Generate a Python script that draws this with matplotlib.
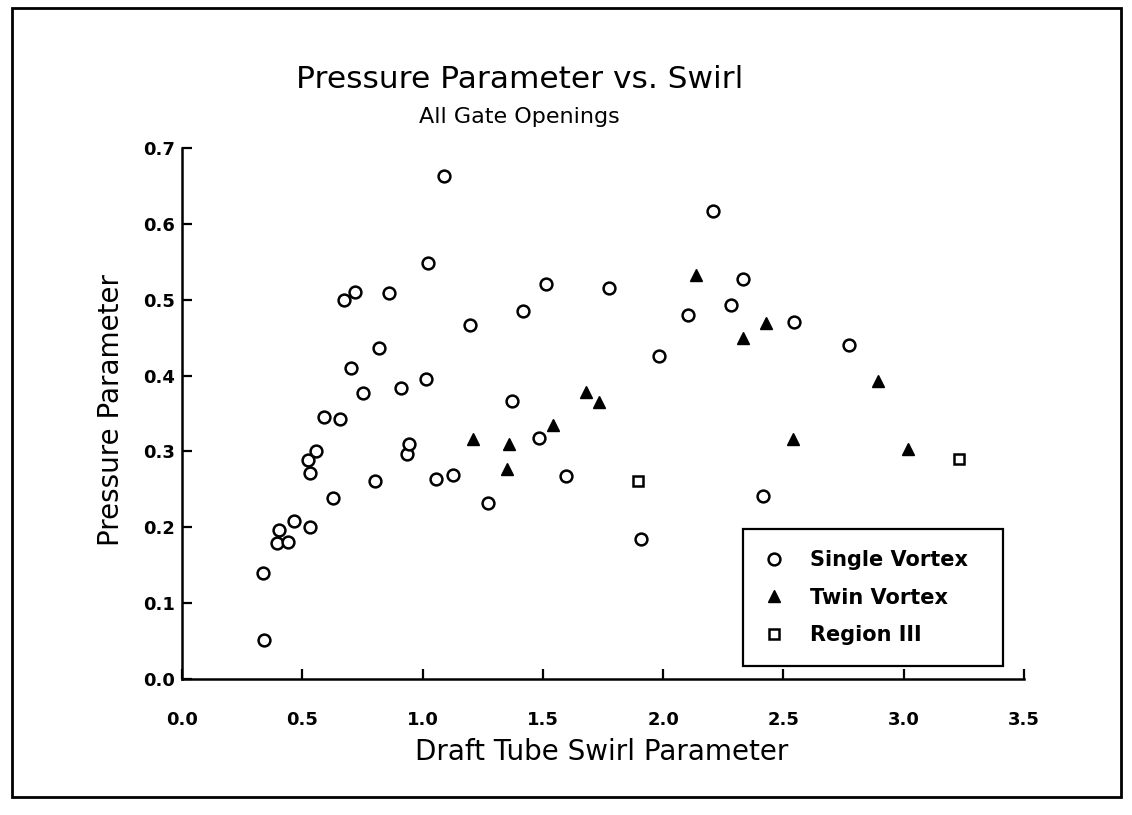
import matplotlib
matplotlib.use("Agg")
import matplotlib.pyplot as plt
from matplotlib.patches import Rectangle

# valores
single_x = [0.338, 0.341, 0.394, 0.405, 0.439, 0.466, 0.525, 0.532, 0.532, 0.556,
            0.589, 0.626, 0.657, 0.675, 0.701, 0.719, 0.751, 0.801, 0.818, 0.862,
            0.911, 0.934, 0.945, 1.016, 1.021, 1.055, 1.091, 1.128, 1.198, 1.274,
            1.371, 1.419, 1.482, 1.512, 1.595, 1.777, 1.909, 1.981, 2.104, 2.209,
            2.280, 2.333, 2.417, 2.546, 2.773]
single_y = [0.140, 0.052, 0.179, 0.196, 0.180, 0.208, 0.289, 0.271, 0.200, 0.300,
            0.345, 0.239, 0.343, 0.500, 0.410, 0.510, 0.377, 0.261, 0.436, 0.509,
            0.384, 0.296, 0.310, 0.395, 0.548, 0.263, 0.663, 0.269, 0.467, 0.232,
            0.367, 0.485, 0.318, 0.521, 0.268, 0.515, 0.184, 0.426, 0.480, 0.617,
            0.493, 0.527, 0.241, 0.471, 0.440]

twin_x = [1.209, 1.350, 1.358, 1.544, 1.680, 1.735, 2.137, 2.331, 2.427, 2.539, 2.894, 3.019]
twin_y = [0.316, 0.277, 0.310, 0.335, 0.379, 0.365, 0.532, 0.449, 0.469, 0.316, 0.393, 0.303]

reg3_x = [1.895, 3.228]
reg3_y = [0.261, 0.290]

x_ticks = [0.0, 0.5, 1.0, 1.5, 2.0, 2.5, 3.0, 3.5]
y_ticks = [0.0, 0.1, 0.2, 0.3, 0.4, 0.5, 0.6, 0.7]

W, H = 1132, 815
fig = plt.figure(figsize=(W / 100, H / 100), dpi=100)
fig.patch.set_facecolor("white")

# marco exterior
fig.add_artist(Rectangle((12 / W, 1 - 797 / H), (1121 - 12) / W, (797 - 8) / H,
                         transform=fig.transFigure, fill=False, lw=2, color="black"))

ax = fig.add_axes([182 / W, 1 - 679 / H, (1024 - 182) / W, (679 - 148) / H])

ms = 8.5
ax.plot(single_x, single_y, "o", ms=ms, mfc="white", mec="black", mew=1.8,
        ls="none", label="Single Vortex")
ax.plot(twin_x, twin_y, "^", ms=ms + 0.5, mfc="black", mec="black", mew=1,
        ls="none", label="Twin Vortex")
ax.plot(reg3_x, reg3_y, "s", ms=ms - 1, mfc="white", mec="black", mew=1.8,
        ls="none", label="Region III")

ax.set_xlim(0, 3.5)
ax.set_ylim(0, 0.7)
ax.set_xticks(x_ticks)
ax.set_yticks(y_ticks)
ax.set_xticklabels([f"{v:.1f}" for v in x_ticks])
ax.set_yticklabels([f"{v:.1f}" for v in y_ticks])

for s in ["top", "right"]:
    ax.spines[s].set_visible(False)
for s in ["left", "bottom"]:
    ax.spines[s].set_linewidth(1.8)

ax.tick_params(axis="both", direction="in", length=7, width=1.6, labelsize=13)
ax.tick_params(axis="x", pad=23)
ax.tick_params(axis="y", pad=5)
for lab in ax.get_xticklabels() + ax.get_yticklabels():
    lab.set_fontweight("bold")

leg = ax.legend(loc="upper left", bbox_to_anchor=((743 - 182) / 842, (679 - 529) / 531 - 0.01,
                                                  (1003 - 743) / 842, 0.01),
                mode="expand", frameon=True, fancybox=False, framealpha=1,
                edgecolor="black", borderpad=1.0, handlelength=1.0,
                handletextpad=1.22, labelspacing=0.85, borderaxespad=0,
                prop={"size": 15, "weight": "bold"})
leg.get_frame().set_linewidth(1.6)

fig.text(520 / W, 1 - 80 / H, "Pressure Parameter vs. Swirl", ha="center", va="center",
         fontsize=22.5)
fig.text(519 / W, 1 - 117 / H, "All Gate Openings", ha="center", va="center",
         fontsize=16)
fig.text(602 / W, 1 - 752 / H, "Draft Tube Swirl Parameter", ha="center", va="center",
         fontsize=20)
fig.text(111 / W, 1 - 410 / H, "Pressure Parameter", ha="center", va="center",
         rotation=90, fontsize=20)

fig.savefig("out.png", dpi=100)
